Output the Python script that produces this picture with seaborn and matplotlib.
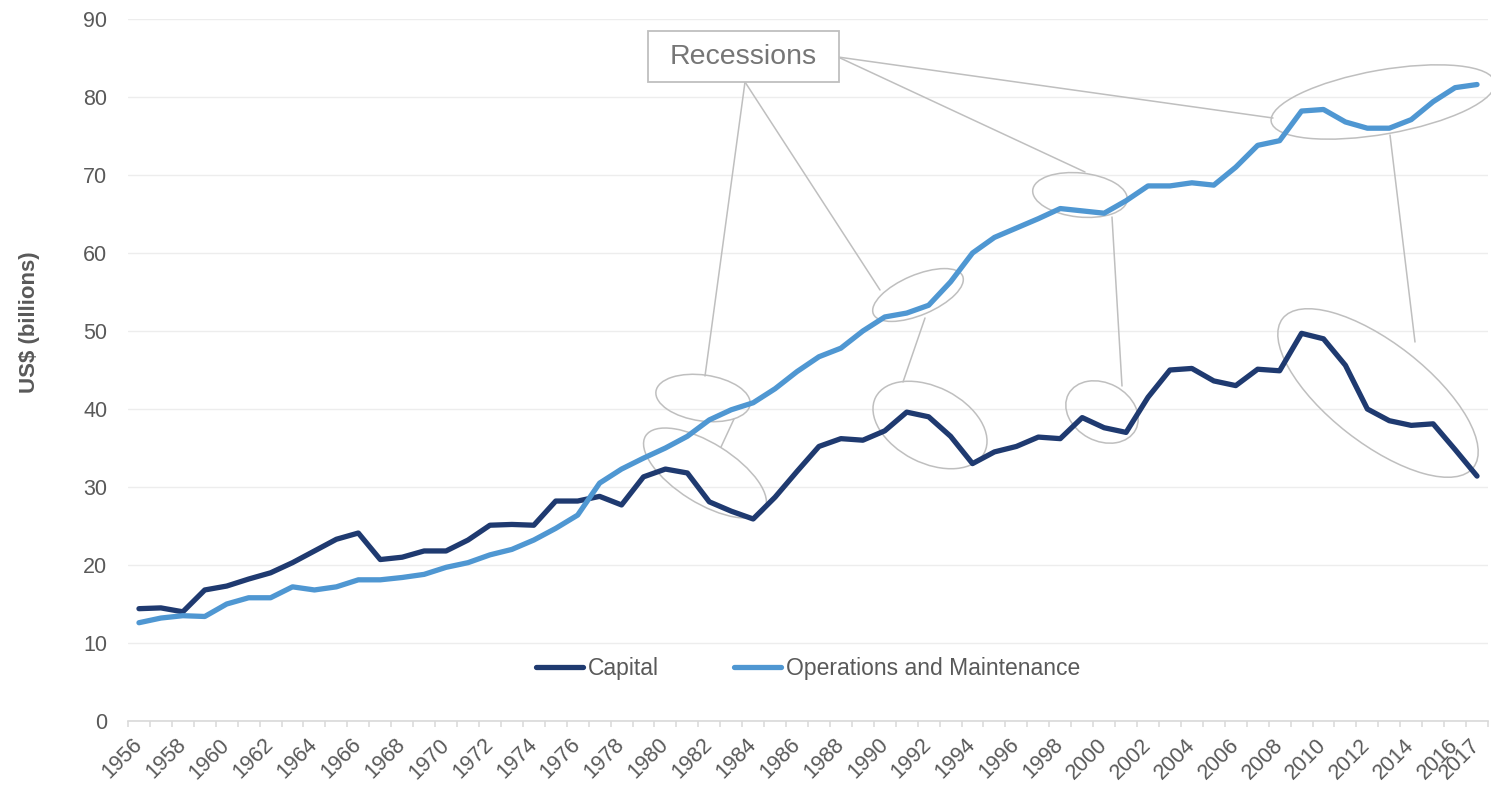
import pandas as pd
import matplotlib
matplotlib.use("Agg")
import matplotlib.pyplot as plt
import seaborn as sns
from matplotlib.patches import Ellipse, Rectangle
from matplotlib.transforms import Affine2D

# ==========================================
# DATA
# ==========================================
years = list(range(1956, 2018))

capital = [
    14.4, 14.5, 14.0, 16.8, 17.3, 18.2, 19.0, 20.3, 21.8, 23.3,
    24.1, 20.7, 21.0, 21.8, 21.8, 23.2, 25.1, 25.2, 25.1, 28.2,
    28.2, 28.8, 27.7, 31.3, 32.3, 31.8, 28.1, 26.9, 25.9, 28.7,
    32.0, 35.2, 36.2, 36.0, 37.2, 39.6, 39.0, 36.5, 33.0, 34.5,
    35.2, 36.4, 36.2, 38.9, 37.6, 37.0, 41.5, 45.0, 45.2, 43.6,
    43.0, 45.1, 44.9, 49.7, 49.0, 45.6, 40.0, 38.5, 37.9, 38.1,
    34.8, 31.4,
]

operations = [
    12.6, 13.2, 13.5, 13.4, 15.0, 15.8, 15.8, 17.2, 16.8, 17.2,
    18.1, 18.1, 18.4, 18.8, 19.7, 20.3, 21.3, 22.0, 23.2, 24.7,
    26.4, 30.5, 32.3, 33.7, 35.0, 36.5, 38.6, 39.9, 40.8, 42.6,
    44.8, 46.7, 47.8, 50.0, 51.8, 52.3, 53.3, 56.3, 60.0, 62.0,
    63.2, 64.4, 65.7, 65.4, 65.1, 66.7, 68.6, 68.6, 69.0, 68.7,
    71.0, 73.8, 74.4, 78.2, 78.4, 76.8, 76.0, 76.0, 77.1, 79.4,
    81.2, 81.6,
]

series_names = ["Capital", "Operations and Maintenance"]
tick_years = list(range(1956, 2017, 2)) + [2017]
y_ticks = list(range(0, 91, 10))

COL_CAPITAL = "#1F3A70"
COL_OM = "#4F97D2"
GREY_TXT = "#595959"
GREY_ANN = "#BFBFBF"

df = pd.DataFrame({
    "Year": years * 2,
    "Value": capital + operations,
    "Series": [series_names[0]] * len(years) + [series_names[1]] * len(years),
})

# ==========================================
# THEME
# ==========================================
sns.set_theme(style="white")
plt.rcParams['font.family'] = ['Liberation Sans', 'DejaVu Sans']

W, H = 1491, 789
fig = plt.figure(figsize=(W / 100, H / 100), dpi=100)
ax = fig.add_axes([128 / W, 68 / H, 1360 / W, 702 / H])

sns.lineplot(
    data=df, x="Year", y="Value", hue="Series",
    palette=[COL_CAPITAL, COL_OM], linewidth=3.8, ax=ax, zorder=5,
    solid_capstyle="round", solid_joinstyle="round",
)

ax.set_xlim(1955.5, 2017.5)
ax.set_ylim(0, 90)
ax.set_yticks(y_ticks)
ax.set_xticks(tick_years)
ax.set_xticklabels([str(y) for y in tick_years], rotation=45, ha="right",
                   va="center", rotation_mode="anchor")
ax.set_xticks([y - 0.5 for y in years] + [2017.5], minor=True)

ax.tick_params(axis="y", length=0, pad=15, labelsize=15.5, labelcolor=GREY_TXT)
ax.tick_params(axis="x", which="major", bottom=True, length=0, pad=15,
               labelsize=15.5, labelcolor=GREY_TXT)
ax.tick_params(axis="x", which="minor", bottom=True, length=4.5, width=1.1,
               color="#D9D9D9", direction="out")

ax.grid(axis="y", color="#EDEDED", linewidth=1.0)
ax.grid(axis="x", visible=False)
ax.set_axisbelow(True)
for side in ["left", "right", "top"]:
    ax.spines[side].set_visible(False)
ax.spines["bottom"].set_color("#D9D9D9")
ax.spines["bottom"].set_linewidth(1.2)
ax.spines["bottom"].set_zorder(1)

ax.set_xlabel("")
ax.set_ylabel("US$ (billions)", fontsize=16, fontweight="bold", color=GREY_TXT)
ax.yaxis.set_label_coords((40 - 128) / 1360, (721 - 322) / 702)

handles, labels = ax.get_legend_handles_labels()
leg = ax.legend(handles, labels, loc="center", bbox_to_anchor=(0.5, (721 - 669) / 702),
                ncol=2, frameon=False, fontsize=16.5, handlelength=2.05,
                handletextpad=0.2, columnspacing=3.3)
for t in leg.get_texts():
    t.set_color(GREY_TXT)
for ln in leg.get_lines():
    ln.set_linewidth(3.8)

# ==========================================
# RECESSION CALLOUTS (image pixel space, y down)
# ==========================================
px = Affine2D().scale(1, -1).translate(0, H)

ellipses = [
    ((703, 398), 95, 46, 8),
    ((705, 473), 140, 60, 32),
    ((918, 295), 97, 40, -23),
    ((930, 425), 122, 76, 27),
    ((1080, 195), 95, 44, 6),
    ((1102, 412), 76, 58, 28),
    ((1383, 102), 227, 64, -10),
    ((1378, 393), 242, 100, 38),
]
for (cx, cy), w, h, ang in ellipses:
    e = Ellipse((cx, cy), w, h, angle=ang, fill=False, edgecolor=GREY_ANN,
                linewidth=1.1, transform=px, clip_on=False, zorder=3)
    ax.add_patch(e)

leaders = [
    ((745, 82), (705, 376)),
    ((745, 82), (880, 290)),
    ((838, 57), (1085, 172)),
    ((838, 57), (1273, 118)),
    ((734, 419), (721, 447)),
    ((925, 318), (903, 382)),
    ((1112, 217), (1122, 386)),
    ((1390, 135), (1415, 342)),
]
for (x0, y0), (x1, y1) in leaders:
    ax.plot([x0, x1], [y0, y1], color=GREY_ANN, linewidth=1.1,
            transform=px, clip_on=False, zorder=3)

box = Rectangle((648, 31), 191, 51, facecolor="white", edgecolor=GREY_ANN,
                linewidth=1.3, transform=px, clip_on=False, zorder=4)
ax.add_patch(box)
ax.text(743.5, 57, "Recessions", transform=px, fontsize=20.5, color="#767676",
        ha="center", va="center", zorder=6)

fig.savefig("out.png", dpi=100)
